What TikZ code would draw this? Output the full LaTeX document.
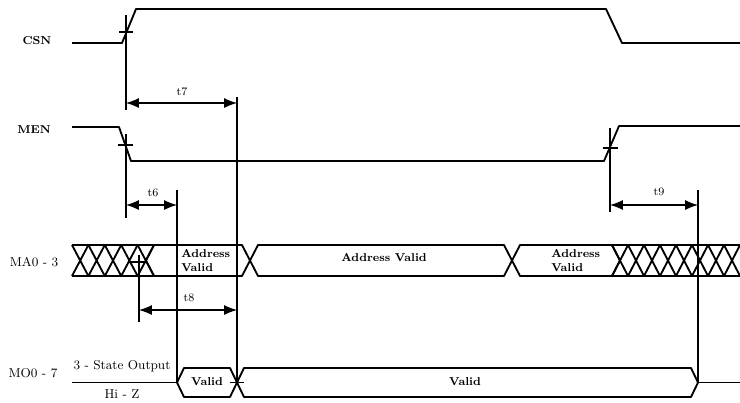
\documentclass[tikz,border=0pt]{standalone}
\usepackage{tikz}
\usetikzlibrary{arrows.meta, positioning}

\begin{document}
\begin{tikzpicture}[x=0.7pt, y=-0.7pt,
        sig/.style={line width=1.3pt, line join=round},
        guide/.style={line width=0.8pt},
        dim/.style={guide, {Latex[length=9pt,width=7pt]}-{Latex[length=9pt,width=7pt]}},
        sname/.style={font=\footnotesize\bfseries},
        bname/.style={font=\small},
        tlab/.style={font=\footnotesize, inner sep=1pt},
        btext/.style={font=\footnotesize\bfseries, align=left, inner sep=0pt}]
    \useasboundingbox (0,0) rectangle (740,402);

    % signal names
    \node[sname] (csn) at (37,41) {CSN};
    \node[sname] (men) at (34,130) {MEN};
    \node[bname] (ma) at (34,262) {MA0 - 3};
    \node[bname] (mo) at (33,373) {MO0 - 7};
    \node[bname] (tri) at (122,366) {3 - State Output};
    \node[bname] (hiz) [below = 20pt of tri.center, anchor=center] {Hi - Z};

    % CSN and MEN
    \draw[sig] (72,43) -- (122,43) -- (136,9) -- (606,9) -- (622,43) -- (740,43);
    \draw[sig] (72,127) -- (119,127) -- (131,161) -- (604,161) -- (619,126) -- (740,126);

    % MA0-3 bus
    \draw[sig] (72,245) -- (154,245) (72,276) -- (154,276);
    \foreach \x in {72,88.4,104.8,121.2,137.6}
        \draw[sig] (\x,245) -- ++(16.4,31) (\x,276) -- ++(16.4,-31);
    \draw[sig] (612,245) -- (740,245) (612,276) -- (740,276);
    \foreach \x in {612,628,...,724}
        \draw[sig] (\x,245) -- ++(16,31) (\x,276) -- ++(16,-31);
    \foreach \a/\b in {146/250, 250/512, 512/620}
        \draw[sig] (\a,260.5) -- (\a+8,245) -- (\b-8,245) -- (\b,260.5) -- (\b-8,276) -- (\a+8,276) -- cycle;
    \node[btext, anchor=west] (adr1) at (181,260.5) {Address\\Valid};
    \node[btext] (adr2) at (384,258) {Address Valid};
    \node[btext, anchor=west] (adr3) at (551,260.5) {Address\\Valid};

    % MO0-7 bus
    \draw[sig] (72,382.5) -- (177,382.5) (698,382.5) -- (740,382.5);
    \foreach \a/\b in {177/237, 237/698}
        \draw[sig] (\a,382.5) -- (\a+7,368) -- (\b-7,368) -- (\b,382.5) -- (\b-7,397) -- (\a+7,397) -- cycle;
    \node[btext] (val1) at (207,382) {Valid};
    \node[btext] (val2) at (465,382) {Valid};

    % reference lines
    \draw[guide] (126,15) -- (126,110) (119,32) -- (133,32);
    \draw[guide] (126,134) -- (126,218) (118,145) -- (133,145);
    \draw[guide] (237,97) -- (237,382.5) (230,382.5) -- (244,382.5);
    \draw[guide] (177,190) -- (177,382.5);
    \draw[guide] (139,255) -- (139,322) (131,262) -- (145,262);
    \draw[guide] (610,128) -- (610,212) (603,148) -- (618,148);
    \draw[guide] (698,190) -- (698,382.5);

    % timing
    \coordinate (t7a) at (126,103);  \coordinate (t7b) at (237,103);
    \coordinate (t6a) at (126,205);  \coordinate (t6b) at (177,205);
    \coordinate (t8a) at (139,310);  \coordinate (t8b) at (237,310);
    \coordinate (t9a) at (610,205);  \coordinate (t9b) at (698,205);
    \draw[dim] (t7a) -- (t7b);
    \draw[dim] (t6a) -- (t6b);
    \draw[dim] (t8a) -- (t8b);
    \draw[dim] (t9a) -- (t9b);
    \node[tlab] (t7) at (182,92) {t7};
    \node[tlab] (t6) at (153,193) {t6};
    \node[tlab] (t8) at (189,298) {t8};
    \node[tlab] (t9) at (659,192) {t9};
\end{tikzpicture}
\end{document}
